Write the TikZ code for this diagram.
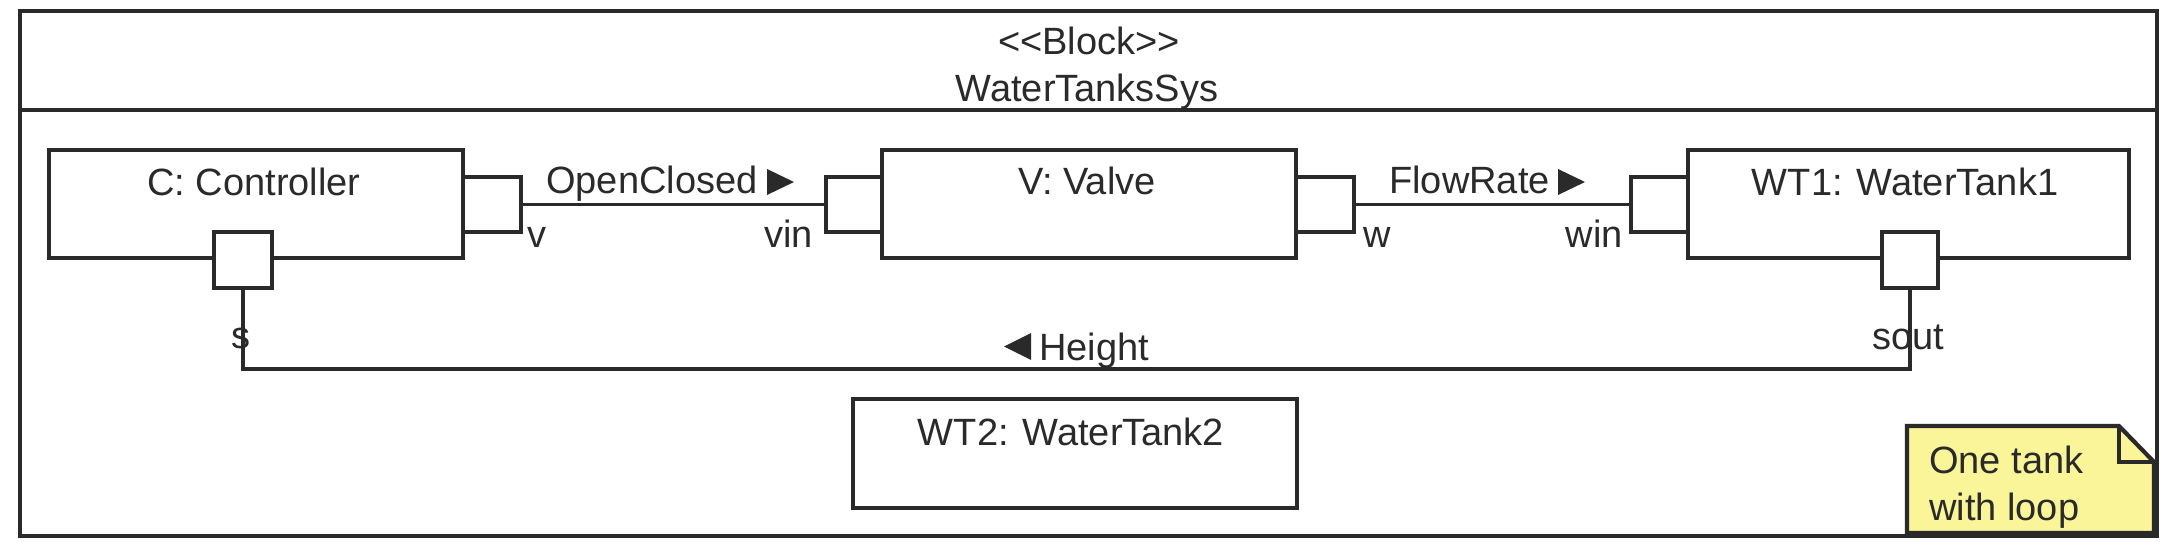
\documentclass[tikz,border=0pt]{standalone}
\usepackage{fontspec}
\setmainfont{Liberation Sans}
\definecolor{ink}{RGB}{42,42,42}
\definecolor{notey}{RGB}{250,245,152}
\begin{document}
\begin{tikzpicture}[x=1pt,y=-1pt,
  every node/.style={text=ink, font=\fontsize{38}{44}\selectfont},
  box/.style={draw=ink, line width=4.2pt, fill=white, inner sep=0pt, anchor=north west},
  txt/.style={inner sep=0pt, anchor=base},
  wire/.style={draw=ink, line width=3.6pt},
  tri/.style={fill=ink, draw=none}]
\useasboundingbox (0,0) rectangle (2164,543);
% frame
\node[box, minimum width=2137pt, minimum height=525pt] (frame) at (18,9) {};
\coordinate (sepl) at (18,110);
\coordinate (sepr) at (2155,110);
\draw[draw=ink, line width=4.2pt] (sepl) -- (sepr);
\node[txt] (stereo) at (1089,55) {<{}<Block>{}>};
\node[txt] (title) at (1087,102) {WaterTanksSys};
% blocks
\node[box, minimum width=414pt, minimum height=108pt] (ctrl) at (47,148) {};
\node[box, minimum width=414pt, minimum height=108pt] (valve) at (880,148) {};
\node[box, minimum width=441pt, minimum height=108pt] (wt1) at (1686,148) {};
\node[box, minimum width=444pt, minimum height=109pt] (wt2) at (851,397) {};
\node[txt] (ctrlt) at (254,195) {C: Controller};
\node[txt] (valvet) at (1087,194) {V: Valve};
\node[txt] (wt1t) at (1905,195) {WT1: WaterTank1};
\node[txt] (wt2t) at (1071,445) {WT2: WaterTank2};
% ports
\node[box, minimum width=58pt, minimum height=55pt] (pv) at (461,175) {};
\node[box, minimum width=56pt, minimum height=55pt] (pvin) at (824,175) {};
\node[box, minimum width=58pt, minimum height=55pt] (pw) at (1294,175) {};
\node[box, minimum width=57pt, minimum height=55pt] (pwin) at (1629,175) {};
\node[box, minimum width=58pt, minimum height=56pt] (ps) at (212,230) {};
\node[box, minimum width=56pt, minimum height=56pt] (psout) at (1880,230) {};
% connectors
\draw[wire] (pv.east) -- (pvin.west);
\draw[wire] (pw.east) -- (pwin.west);
\coordinate (lc) at (241,369);
\draw[wire] (ps.south) -- (ps.south |- lc) -| (psout.south);
% port labels
\node[txt, anchor=base west] (lv) at (527,247) {v};
\node[txt, anchor=base east] (lvin) at (813,247) {vin};
\node[txt, anchor=base west] (lw) at (1363,247) {w};
\node[txt, anchor=base east] (lwin) at (1623,247) {win};
\node[txt] (ls) at (241,348) {s};
\node[txt] (lsout) at (1908,349) {sout};
% connector labels
\node[txt, anchor=base west] (loc) at (546,193) {OpenClosed};
\fill[ink] (767,169) -- (794,182) -- (767,195) -- cycle;
\node[txt, anchor=base east] (lfr) at (1550,193) {FlowRate};
\fill[ink] (1558,169) -- (1585,182) -- (1558,195) -- cycle;
\fill[ink] (1031,333) -- (1004,346.5) -- (1031,360) -- cycle;
\node[txt, anchor=base west] (lh) at (1039,360) {Height};
% note
\draw[draw=ink, fill=notey, line width=4.2pt, line join=miter] (1907,426) -- (2119,426) -- (2154,462) -- (2154,533) -- (1907,533) -- cycle;
\draw[draw=ink, line width=4.2pt] (2119,426) -- (2119,462) -- (2154,462);
\node[txt, anchor=base west] (n1) at (1929,473) {One tank};
\node[txt, anchor=base west] (n2) at (1929,520) {with loop};
\end{tikzpicture}
\end{document}
